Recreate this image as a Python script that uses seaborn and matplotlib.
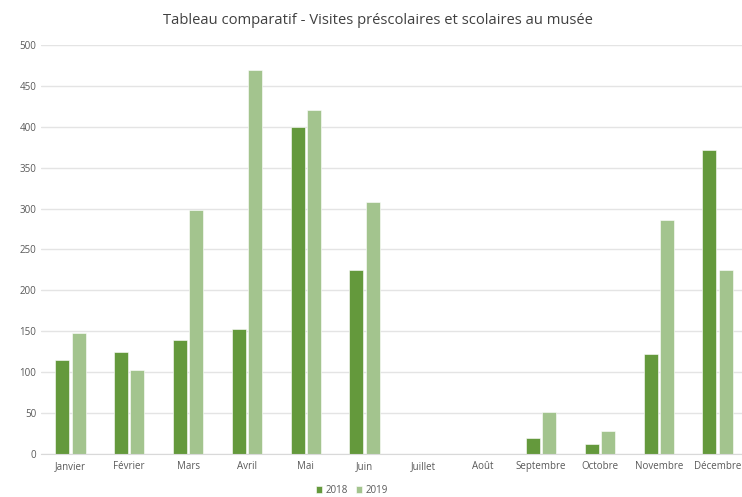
import seaborn as sns
import numpy as np
import matplotlib.pyplot as plt
import pandas as pd

#%%
mois = ['Janvier', 'Février', 'Mars', 'Avril', 'Mai', 'Juin', 'Juillet',
        'Août', 'Septembre', 'Octobre', 'Novembre', 'Décembre']
visites_2018 = [115, 125, 139, 153, 400, 225, 0, 0, 20, 12, 122, 372]
visites_2019 = [148, 103, 298, 469, 421, 308, 0, 0, 51, 28, 286, 225]

data = pd.DataFrame({
    'mois': mois * 2,
    'visites': visites_2018 + visites_2019,
    'annee': ['2018'] * 12 + ['2019'] * 12,
})

#%%
sns.set_style('white')
plt.rcParams['font.family'] = ['Open Sans', 'DejaVu Sans']

fig = plt.figure(figsize=(7.42, 4.97), dpi=100)
ax = fig.add_axes([41 / 742, 43 / 497, 706 / 742, 409 / 497])

sns.barplot(data=data, x='mois', y='visites', hue='annee', order=mois,
            palette=['#64993c', '#a3c48e'], saturation=1, width=0.56, gap=0.15,
            edgecolor='white', linewidth=0.4, ax=ax)

ax.set_ylim(0, 500)
ax.set_xlim(-0.5, 11.5)
ax.set_yticks(np.arange(0, 501, 50))
ax.yaxis.grid(True, color='#e4e4e4', linewidth=1)
ax.set_axisbelow(True)
for s in ['top', 'right', 'left']:
    ax.spines[s].set_visible(False)
ax.spines['bottom'].set_color('#d9d9d9')
ax.tick_params(axis='both', length=0, labelsize=7, colors='#595959')
ax.tick_params(axis='x', pad=5)
ax.set_xlabel('')
ax.set_ylabel('')

fig.text(0.51, 0.958, 'Tableau comparatif - Visites préscolaires et scolaires au musée',
         ha='center', va='center', fontsize=10.6, color='#404040')

ax.legend(loc='upper center', bbox_to_anchor=(0.44, -0.055), ncol=2,
          frameon=False, fontsize=7, handlelength=0.7, handleheight=0.7,
          handletextpad=0.3, columnspacing=0.8, labelcolor='#595959')

plt.savefig('out.png', dpi=100)
